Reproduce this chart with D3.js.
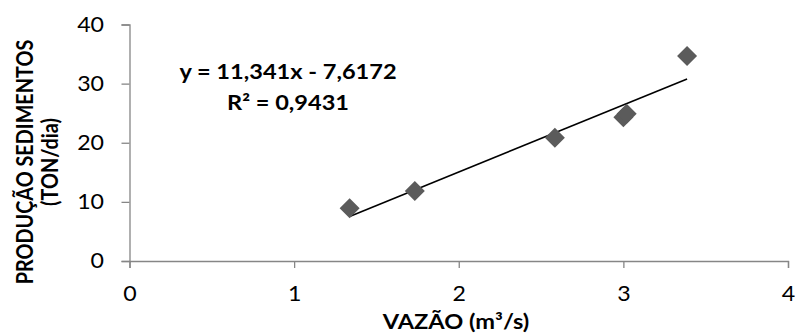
<!DOCTYPE html>
<html><head><meta charset="utf-8">
<script src="https://cdn.jsdelivr.net/npm/d3@7"></script>
<style>body{margin:0;background:#fff}svg{display:block}</style>
</head><body><svg id="c" width="795" height="335"></svg>
<script>
const vazao = [1.337, 1.733, 2.584, 3.00, 3.02, 3.387];
const producao = [8.92, 11.84, 20.86, 24.3, 24.9, 34.67];
const xTicks = [0, 1, 2, 3, 4];
const yTicks = [0, 10, 20, 30, 40];
const slope = 11.341, intercept = -7.6172;
const eqLabel = "y = 11,341x - 7,6172";
const r2Label = "R² = 0,9431";
const xTitle = "VAZÃO (m³/s)";
const yTitle = ["PRODUÇÃO SEDIMENTOS", "(TON/dia)"];

const font = "Lato, 'Open Sans', sans-serif";
const svg = d3.select("#c");
const x = d3.scaleLinear().domain([0, 4]).range([129.5, 788]);
const y = d3.scaleLinear().domain([0, 40]).range([261, 24.5]);
const axisColor = "#868686";
const kx = 1.13;

const gx = svg.append("g").attr("transform", `translate(0,${y(0)})`)
  .call(d3.axisBottom(x).tickValues(xTicks).tickSize(7).tickPadding(18).tickFormat(d3.format("d")));
const gy = svg.append("g").attr("transform", `translate(${x(0)},0)`)
  .call(d3.axisLeft(y).tickValues(yTicks).tickSize(8).tickPadding(18).tickFormat(d3.format("d")));
[gx, gy].forEach(g => {
  g.select(".domain").attr("stroke", axisColor).attr("stroke-width", 1.3);
  g.selectAll(".tick line").attr("stroke", axisColor).attr("stroke-width", 1.3);
  g.selectAll("text").attr("fill", "#000").style("font-family", font).style("font-size", "20.5px");
});
gx.selectAll(".tick text").attr("transform", `scale(${kx},1)`);
gy.selectAll(".tick text").attr("x", 0).attr("transform", `translate(-25.5,0) scale(${kx},1)`);

// trendline
const xmin = d3.min(vazao), xmax = d3.max(vazao);
svg.append("line")
  .attr("x1", x(xmin)).attr("y1", y(slope * xmin + intercept))
  .attr("x2", x(xmax)).attr("y2", y(slope * xmax + intercept))
  .attr("stroke", "#000").attr("stroke-width", 1.6);

// points
const pts = vazao.map((v, i) => [v, producao[i]]);
svg.append("g").selectAll("path").data(pts).join("path")
  .attr("transform", d => `translate(${x(d[0])},${y(d[1])})`)
  .attr("d", "M0,-10L10,0L0,10L-10,0Z")
  .attr("fill", "#5b5b5b");

// equation
const eqG = svg.append("g").attr("transform", `translate(288,0) scale(1.15,1)`);
const eq = eqG.append("text").attr("text-anchor", "middle")
  .style("font-family", font).style("font-weight", "bold").style("font-size", "20.5px");
eq.append("tspan").attr("x", 0).attr("y", 79).text(eqLabel);
eq.append("tspan").attr("x", 0).attr("y", 110).text(r2Label);

// axis titles
svg.append("text").attr("transform", `translate(456,329) scale(1.15,1)`).attr("text-anchor", "middle")
  .style("font-family", font).style("font-weight", "bold").style("font-size", "20.5px")
  .text(xTitle);
const yt = svg.append("text").attr("transform", "translate(0,162) rotate(-90) scale(1,1.12)")
  .attr("text-anchor", "middle")
  .style("font-family", font).style("font-weight", "bold").style("font-size", "19.8px");
yt.append("tspan").attr("x", 0).attr("y", 29.5).text(yTitle[0]);
yt.append("tspan").attr("x", 0).attr("y", 51.5).text(yTitle[1]);
</script></body></html>
